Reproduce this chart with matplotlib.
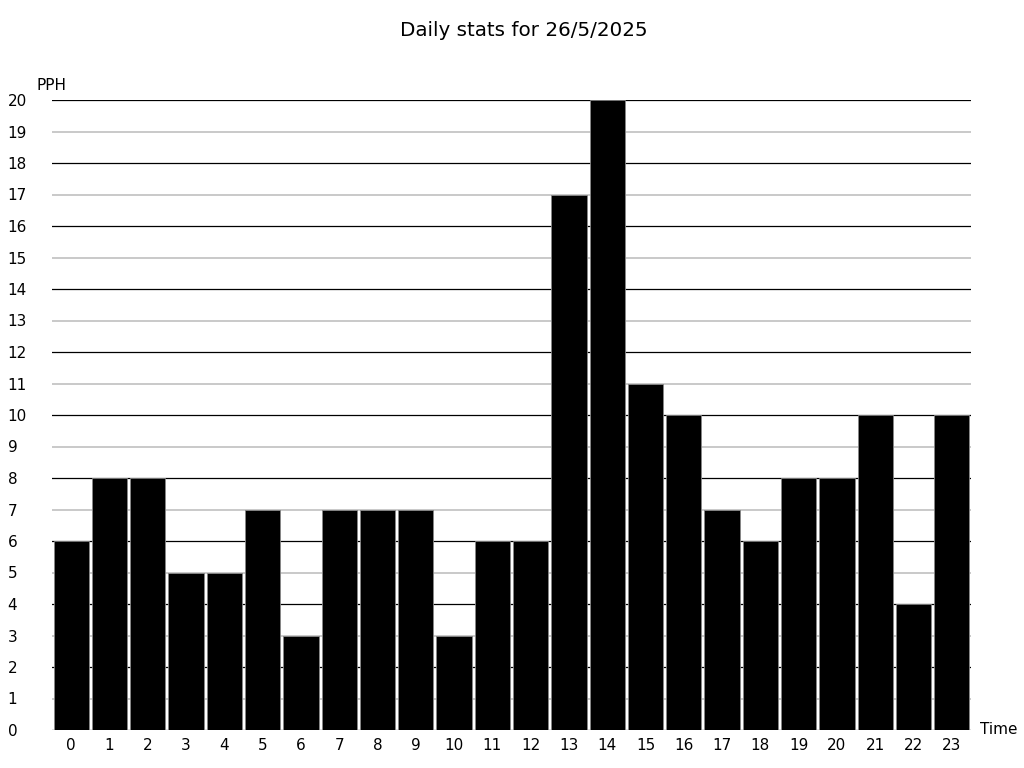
import matplotlib
matplotlib.use("Agg")
import matplotlib.pyplot as plt

hours = list(range(24))
pph = [6, 8, 8, 5, 5, 7, 3, 7, 7, 7, 3, 6, 6, 17, 20, 11, 10, 7, 6, 8, 8, 10, 4, 10]
y_ticks = list(range(0, 21))
title = "Daily stats for 26/5/2025"

fig = plt.figure(figsize=(10.24, 7.68), dpi=100)
ax = fig.add_axes([52/1024, 1-730/768, (971-52)/1024, (730-100)/768])

for v in y_ticks:
    ax.axhline(v, color="black" if v % 2 == 0 else "#bbbbbb", lw=1.1 if v % 2 else 0.9, zorder=0)

ax.bar(hours, pph, width=0.92, color="black", edgecolor="#888888", linewidth=0.6, zorder=2)

ax.set_xlim(-0.5, 23.5)
ax.set_ylim(0, 20)
ax.set_xticks(hours)
ax.set_xticklabels([str(h) for h in hours], fontsize=11)
ax.set_yticks(y_ticks)
ax.set_yticklabels([str(v) for v in y_ticks], fontsize=11, ha="left")
ax.tick_params(axis="y", length=0, pad=32)
ax.tick_params(axis="x", length=0, pad=6)
for s in ax.spines.values():
    s.set_visible(False)

fig.text(524/1024, 1-30/768, title, ha="center", va="center", fontsize=14.3)
fig.text(37/1024, 1-85/768, "PPH", ha="left", va="center", fontsize=11)
fig.text(980/1024, 1-730/768, "Time", ha="left", va="center", fontsize=11)

fig.savefig("out.png", dpi=100)
